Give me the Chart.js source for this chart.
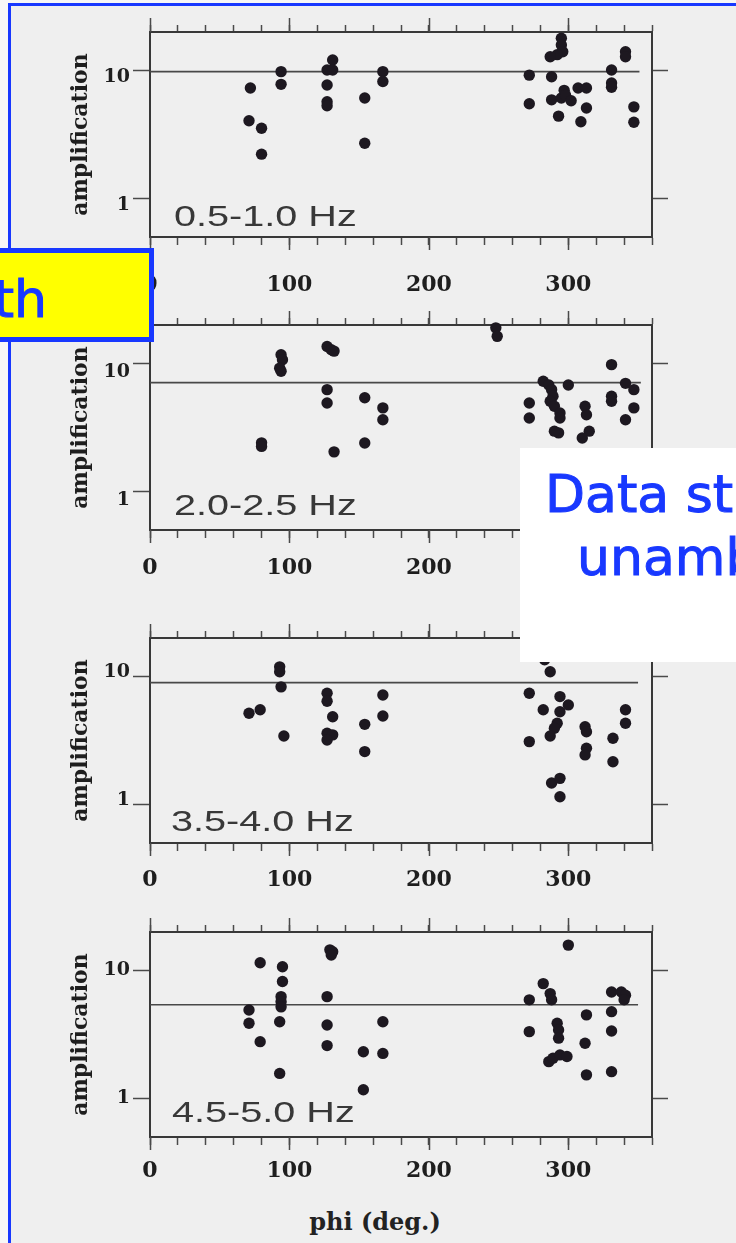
<!DOCTYPE html>
<html>
<head>
<meta charset="utf-8">
<script src="https://cdn.jsdelivr.net/npm/chart.js@4.4.1/dist/chart.umd.min.js"></script>
<style>
  html, body { margin: 0; padding: 0; }
  body { width: 736px; height: 1243px; position: relative; overflow: hidden; background: #f7f7f7; }
  #frame { position: absolute; left: 8px; top: 3px; width: 800px; height: 1300px;
           border-left: 3px solid #1838ff; border-top: 3px solid #1838ff; background: #efefef; }
  canvas { position: absolute; left: 0; }
  .band { position: absolute; font-family: "Liberation Sans", Arial, sans-serif; font-size: 30px;
          line-height: 30px; color: #383838; transform: scaleX(1.32); transform-origin: 0 0; white-space: nowrap; }
  #xtitle { position: absolute; left: 275px; width: 200px; top: 1210px; text-align: center;
            font-family: "DejaVu Serif", serif; font-weight: bold; font-size: 24px; line-height: 24px; color: #222; }
  #yellowNote { position: absolute; left: -20px; top: 248px; width: 164px; height: 84px;
                background: #ffff00; border: 5px solid #1838ff; }
  #whiteNote { position: absolute; left: 520px; top: 448px; width: 230px; height: 214px; background: #ffffff; }
  .note { position: absolute; font-family: "DejaVu Sans", sans-serif; font-size: 52px; line-height: 52px;
          color: #1838ff; white-space: nowrap; -webkit-text-stroke: 1px #1838ff; }
</style>
</head>
<body>
<div id="frame"></div>
<canvas id="c1" width="736" height="295"></canvas>
<canvas id="c2" width="736" height="295"></canvas>
<canvas id="c3" width="736" height="295"></canvas>
<canvas id="c4" width="736" height="295"></canvas>
<div class="band" style="left:174px;top:201px">0.5-1.0 Hz</div>
<div class="band" style="left:174px;top:490px">2.0-2.5 Hz</div>
<div class="band" style="left:171px;top:806px">3.5-4.0 Hz</div>
<div class="band" style="left:172px;top:1097px">4.5-5.0 Hz</div>
<div id="xtitle">phi (deg.)</div>
<div id="yellowNote"></div>
<div class="note" style="left:-153px;width:200px;text-align:right;top:273px">th</div>
<div id="whiteNote"></div>
<div class="note" style="left:545px;top:468px">Data st</div>
<div class="note" style="left:577px;top:531px">unamb</div>

<script>
// Axis tick values
const phiTicks = [0, 100, 200, 300];
const ampTicks = [1, 10];

// 0.5-1.0 Hz
const phi1 = [72, 71, 80, 80, 94, 94, 131, 127, 131, 127, 127, 127, 154, 154, 167, 167,
              272, 272, 295, 295, 296, 292, 287, 288, 288, 295, 297, 298, 302, 307, 313,
              293, 309, 313, 331, 331, 331, 341, 341, 347, 347];
const amp1 = [7.3, 4.05, 3.54, 2.22, 9.8, 7.8, 12.1, 10.1, 10.1, 7.7, 5.7, 5.3, 6.1, 2.7, 9.8, 8.2,
              9.2, 5.5, 17.9, 15.8, 14.0, 13.3, 12.8, 8.95, 5.9, 6.1, 7.0, 6.4, 5.8, 7.3, 7.3,
              4.4, 3.98, 5.1, 10.1, 8.0, 7.4, 14.0, 12.8, 5.2, 3.94];

// 2.0-2.5 Hz
const phi2 = [248, 249, 94, 95, 93, 94, 127, 130, 132, 127, 127, 154, 167, 167, 80, 80, 132, 154,
              272, 272, 282, 286, 288, 289, 287, 290, 294, 294, 293, 290, 300, 312, 313, 315, 310,
              331, 331, 331, 341, 347, 347, 341];
const amp2 = [19.0, 16.3, 11.7, 10.7, 9.2, 8.7, 13.6, 12.8, 12.5, 6.25, 4.92, 5.4, 4.5, 3.64, 2.4, 2.25, 2.04, 2.39,
              4.92, 3.75, 7.26, 6.8, 6.25, 5.55, 5.07, 4.63, 4.1, 3.75, 2.87, 2.96, 6.8, 4.63, 3.98, 2.96, 2.62,
              9.8, 5.55, 5.07, 7.0, 6.25, 4.5, 3.64];

// 3.5-4.0 Hz
const phi3 = [93, 93, 94, 71, 79, 96, 127, 127, 131, 127, 131, 127, 154, 154, 167, 167,
              283, 287, 272, 282, 294, 300, 294, 292, 290, 287, 272, 312, 313, 313, 312,
              332, 332, 341, 341, 288, 294, 294];
const amp3 = [11.9, 10.9, 8.3, 5.16, 5.5, 3.43, 7.4, 6.4, 4.85, 3.6, 3.5, 3.19, 4.23, 2.59, 7.17, 4.92,
              13.5, 10.9, 7.4, 5.5, 6.97, 6.0, 5.3, 4.31, 3.94, 3.43, 3.1, 4.05, 3.7, 2.75, 2.44,
              3.29, 2.16, 5.5, 4.31, 1.47, 1.6, 1.15];

// 4.5-5.0 Hz
const phi4 = [79, 95, 95, 94, 94, 94, 93, 93, 71, 71, 79, 129, 131, 130, 127, 127, 127, 167, 153, 167, 153,
              300, 282, 287, 288, 272, 272, 292, 293, 293, 286, 289, 294, 299, 313, 312, 313,
              331, 338, 341, 340, 331, 331, 331];
const amp4 = [11.5, 10.7, 8.2, 6.25, 5.7, 5.2, 3.98, 1.57, 4.92, 3.87, 2.78, 14.5, 14.0, 13.2, 6.25, 3.75, 2.59, 3.98, 2.32, 2.25, 1.17,
              15.8, 7.9, 6.6, 5.9, 5.9, 3.33, 3.87, 3.43, 2.96, 1.94, 2.06, 2.19, 2.13, 4.5, 2.7, 1.53,
              6.8, 6.8, 6.4, 5.9, 4.77, 3.37, 1.62];

// Mean amplification level of each band, and where its line stops
const meanLevel = [9.8, 7.1, 8.95, 5.4];
const meanEnd = [351, 352, 350, 350];

const INK = '#383838';
const TICK = '#4a4a4a';
const DOT = '#1d1820';
const serif = 'DejaVu Serif';

// Longer marks at the labelled phi values on the top and bottom axes
const majorTickMarks = {
  id: 'majorTickMarks',
  afterDraw(chart, args, o) {
    const ctx = chart.ctx;
    const bx = chart.scales.x, tx = chart.scales.x2;
    ctx.save();
    ctx.strokeStyle = TICK;
    ctx.lineWidth = 1.5;
    o.values.forEach(v => {
      const px = Math.round(bx.getPixelForValue(v)) + 0.5;
      ctx.beginPath();
      ctx.moveTo(px, bx.top);
      ctx.lineTo(px, bx.top + o.bottomLen);
      ctx.moveTo(px, tx.bottom);
      ctx.lineTo(px, tx.bottom - o.topLen);
      ctx.stroke();
    });
    ctx.restore();
  }
};

function panel(id, top, phi, amp, level, end, xPad, yLabelOffset) {
  const canvas = document.getElementById(id);
  canvas.style.top = top + 'px';
  const pts = phi.map((p, i) => ({ x: p, y: amp[i] }));
  const border = { display: true, color: INK, width: 2 };
  return new Chart(canvas, {
    type: 'scatter',
    data: {
      datasets: [
        { data: pts, backgroundColor: DOT, borderWidth: 0, pointRadius: 5.7, order: 1, clip: false },
        { data: [{ x: 0, y: level }, { x: end, y: level }], showLine: true, pointRadius: 0,
          borderColor: '#484848', borderWidth: 1.7, order: 2 }
      ]
    },
    options: {
      responsive: false,
      animation: false,
      devicePixelRatio: 1,
      layout: { padding: 0, autoPadding: false },
      plugins: {
        legend: { display: false },
        tooltip: { enabled: false },
        majorTickMarks: { values: phiTicks, bottomLen: 13, topLen: 14 }
      },
      scales: {
        x: {
          type: 'linear', position: 'bottom', min: 0, max: 360,
          afterFit: s => { s.height = 60; },
          border,
          grid: { drawOnChartArea: false, drawTicks: true, tickLength: 8, tickColor: TICK, tickWidth: 1.5 },
          ticks: {
            stepSize: 20, autoSkip: false, maxRotation: 0, minRotation: 0, padding: xPad,
            color: '#1e1e1e', font: { family: serif, weight: 'bold', size: 22 },
            callback: v => phiTicks.includes(v) ? String(v) : ''
          }
        },
        x2: {
          type: 'linear', position: 'top', min: 0, max: 360,
          afterFit: s => { s.height = 30; },
          border,
          grid: { drawOnChartArea: false, drawTicks: true, tickLength: 7, tickColor: TICK, tickWidth: 1.5 },
          ticks: { stepSize: 20, display: false }
        },
        y: {
          type: 'logarithmic', position: 'left', min: 0.5, max: 20,
          afterBuildTicks: s => { s.ticks = ampTicks.map(v => ({ value: v })); },
          afterFit: s => { s.width = 150; },
          border,
          grid: { drawOnChartArea: false, drawTicks: true, tickLength: 17, tickColor: TICK, tickWidth: 1.5 },
          ticks: {
            padding: 3, labelOffset: yLabelOffset, color: '#1e1e1e',
            font: { family: serif, weight: 'bold', size: 19 },
            callback: v => String(v)
          },
          title: {
            display: true, text: 'amplification', color: '#1e1e1e',
            font: { family: serif, weight: 'bold', size: 22 },
            padding: { top: 68, bottom: 0 }
          }
        },
        y2: {
          type: 'logarithmic', position: 'right', min: 0.5, max: 20,
          afterBuildTicks: s => { s.ticks = ampTicks.map(v => ({ value: v })); },
          afterFit: s => { s.width = 84; },
          border,
          grid: { drawOnChartArea: false, drawTicks: true, tickLength: 16, tickColor: TICK, tickWidth: 1.5 },
          ticks: { display: false }
        }
      }
    },
    plugins: [majorTickMarks]
  });
}

panel('c1', 2, phi1, amp1, meanLevel[0], meanEnd[0], 27, 7);
panel('c2', 295, phi2, amp2, meanLevel[1], meanEnd[1], 17, 9);
panel('c3', 608, phi3, amp3, meanLevel[2], meanEnd[2], 16, -4);
panel('c4', 902, phi4, amp4, meanLevel[3], meanEnd[3], 13, 0);
</script>
</body>
</html>
